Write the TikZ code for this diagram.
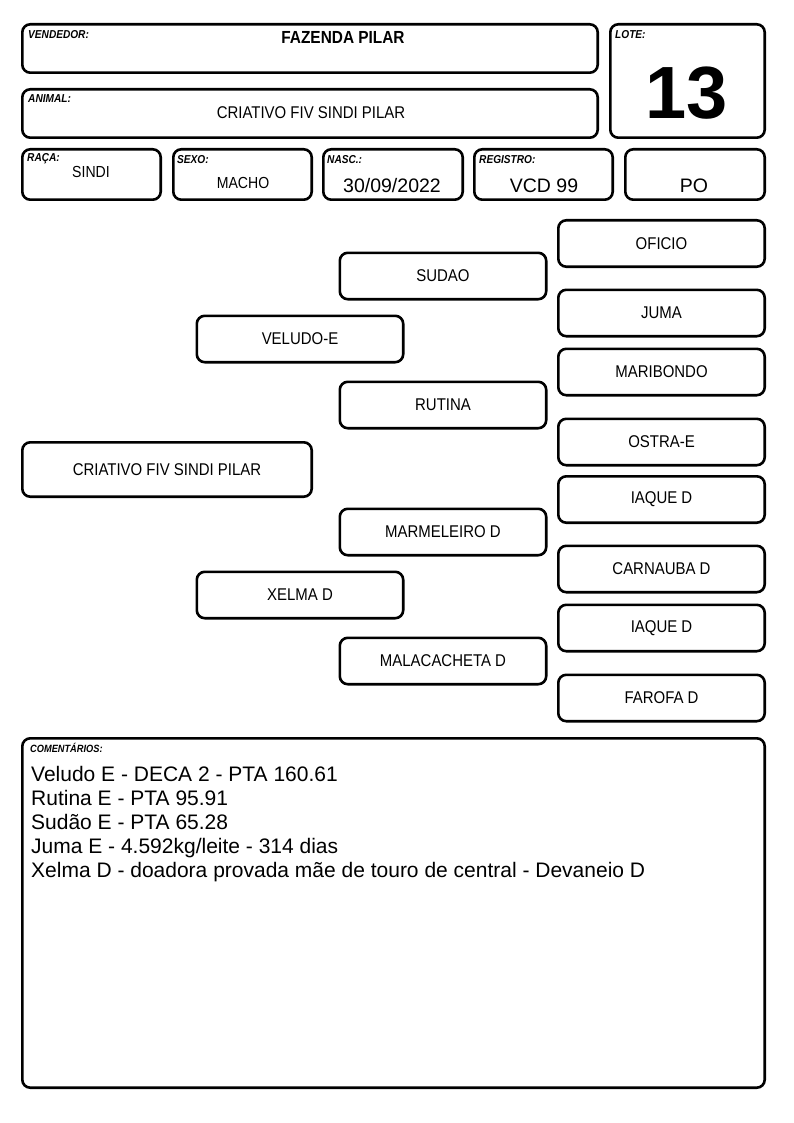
\documentclass[tikz,border=0pt]{standalone}
\usepackage{fontspec}
\setmainfont{Liberation Sans}
\newfontfamily\condf[FakeStretch=0.88]{Liberation Sans}
\begin{document}
\begin{tikzpicture}[x=1pt,y=-1pt,
  box/.style={draw, line width=2.6pt, rounded corners=8pt},
  pbox/.style={box, minimum width=206.4pt, minimum height=46.4pt, inner sep=0pt, font=\condf\fontsize{17}{18}\selectfont},
  lbl/.style={anchor=base west, inner sep=0pt, font=\condf\fontsize{11.5}{12}\selectfont\bfseries\itshape},
  val/.style={inner sep=0pt, font=\condf\fontsize{17}{18}\selectfont},
  valsm/.style={inner sep=0pt, font=\condf\fontsize{16}{16}\selectfont},
  valbig/.style={inner sep=0pt, font=\fontsize{19.5}{22}\selectfont},
  com/.style={anchor=base west, inner sep=0pt, font=\fontsize{21}{24}\selectfont}]
\useasboundingbox (0,0) rectangle (794,1123);
% header boxes
\draw[box] (22.3,24.3) rectangle (597.7,72.7);
\draw[box] (22.3,89.3) rectangle (597.7,137.7);
\draw[box] (610.3,24.3) rectangle (764.7,137.7);
\draw[box] (22.3,149.3) rectangle (160.7,199.7);
\draw[box] (173.3,149.3) rectangle (311.7,199.7);
\draw[box] (323.3,149.3) rectangle (462.7,199.7);
\draw[box] (474.3,149.3) rectangle (612.7,199.7);
\draw[box] (625.3,149.3) rectangle (764.7,199.7);
% header texts
\node[lbl] (lvend) at (28,39) {VENDEDOR:};
\node[val, font=\condf\fontsize{17.5}{18}\selectfont\bfseries] (vend) at (343,37) {FAZENDA PILAR};
\node[lbl] (lanim) at (28,103) {ANIMAL:};
\node[val] (anim) at (311,113) {CRIATIVO FIV SINDI PILAR};
\node[lbl] (llote) at (615,39) {LOTE:};
\node[inner sep=0pt, font=\fontsize{74}{80}\selectfont\bfseries] (lote) at (687,93) {13};
\node[lbl] (lraca) at (27,162) {RAÇA:};
\node[valsm] (raca) at (91,172) {SINDI};
\node[lbl] (lsexo) at (177,164) {SEXO:};
\node[valsm] (sexo) at (243,183) {MACHO};
\node[lbl] (lnasc) at (327,164) {NASC.:};
\node[valbig] (nasc) at (392,186) {30/09/2022};
\node[lbl] (lreg) at (479,164) {REGISTRO:};
\node[valbig] (reg) at (544,186) {VCD 99};
\node[valbig] (po) at (694,186) {PO};
% pedigree
\node[pbox, minimum width=289.4pt, minimum height=54.4pt] (criativo) at (167,469.5) {CRIATIVO FIV SINDI PILAR};
\node[pbox] (veludo) at (300,339) {VELUDO-E};
\node[pbox] (xelma) at (300,595) {XELMA D};
\node[pbox] (sudao) at (443,276) {SUDAO};
\node[pbox] (rutina) at (443,405) {RUTINA};
\node[pbox] (marmeleiro) at (443,532) {MARMELEIRO D};
\node[pbox] (malacacheta) at (443,661) {MALACACHETA D};
\node[pbox] (oficio) at (661.5,243.5) {OFICIO};
\node[pbox] (juma) at (661.5,313) {JUMA};
\node[pbox] (maribondo) at (661.5,372) {MARIBONDO};
\node[pbox] (ostra) at (661.5,442) {OSTRA-E};
\node[pbox] (iaque) at (661.5,499.5) {IAQUE D};
\node[pbox] (carnauba) at (661.5,569) {CARNAUBA D};
\node[pbox] (iaqueb) at (661.5,628) {IAQUE D};
\node[pbox] (farofa) at (661.5,698) {FAROFA D};
% comments
\draw[box] (22.3,738.3) rectangle (764.7,1087.7);
\node[lbl, font=\condf\fontsize{10.5}{11}\selectfont\bfseries\itshape] (lcom) at (30,752) {COMENTÁRIOS:};
\node[com] (c1) at (31,781.5) {Veludo E - DECA 2 - PTA 160.61};
\node[com] (c2) at (31,805.5) {Rutina E - PTA 95.91};
\node[com] (c3) at (31,829.5) {Sudão E - PTA 65.28};
\node[com] (c4) at (31,853.5) {Juma E - 4.592kg/leite - 314 dias};
\node[com] (c5) at (31,877.5) {Xelma D - doadora provada mãe de touro de central - Devaneio D};
\end{tikzpicture}
\end{document}
